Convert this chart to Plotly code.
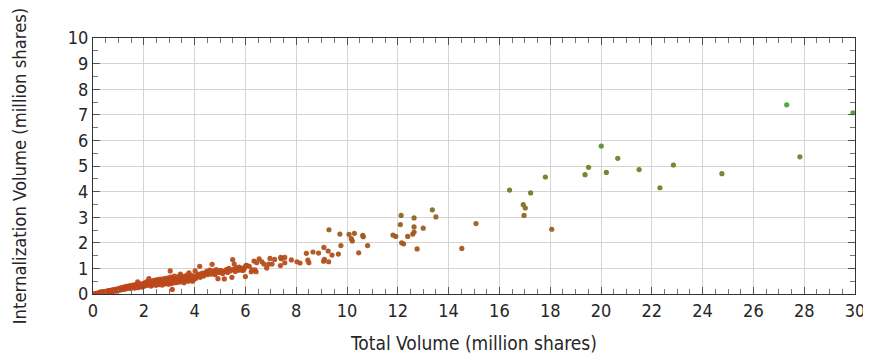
import plotly.graph_objects as go

# Total volume (million shares) and internalization volume (million shares)
total_volume = [
    0.05, 0.10, 0.12, 0.15, 0.18, 0.20, 0.22, 0.25, 0.28, 0.30, 0.32, 0.35, 0.38, 0.40, 0.42, 0.45, 0.48, 0.50,
    0.52, 0.55, 0.58, 0.60, 0.62, 0.65, 0.68, 0.70, 0.72, 0.75, 0.78, 0.80, 0.82, 0.85, 0.88, 0.90, 0.92, 0.95,
    0.98, 1.00, 0.60, 0.75, 0.90, 0.30, 0.45,
    1.02, 1.05, 1.08, 1.10, 1.12, 1.15, 1.18, 1.20, 1.22, 1.25, 1.28, 1.30, 1.32, 1.35, 1.38, 1.40, 1.42, 1.45,
    1.48, 1.50, 1.52, 1.55, 1.58, 1.60, 1.62, 1.65, 1.68, 1.70, 1.72, 1.75, 1.78, 1.80, 1.82, 1.85, 1.88, 1.90,
    1.92, 1.95, 1.98, 2.00, 1.76,
    2.02, 2.05, 2.08, 2.10, 2.12, 2.15, 2.18, 2.20, 2.22, 2.25, 2.28, 2.30, 2.32, 2.35, 2.38, 2.40, 2.42, 2.45,
    2.48, 2.50, 2.52, 2.55, 2.58, 2.60, 2.62, 2.65, 2.68, 2.70, 2.72, 2.75, 2.78, 2.80, 2.82, 2.85, 2.88, 2.90,
    2.92, 2.95, 2.98, 3.00,
    3.02, 3.05, 3.08, 3.10, 3.12, 3.15, 3.18, 3.20, 3.22, 3.25, 3.28, 3.30, 3.32, 3.35, 3.38, 3.40, 3.42, 3.45,
    3.48, 3.50, 3.52, 3.55, 3.58, 3.60, 3.62, 3.65, 3.68, 3.70, 3.72, 3.75, 3.78, 3.80, 3.82, 3.85, 3.88, 3.90,
    3.92, 3.95, 3.98, 3.04, 3.44,
    4.02, 4.05, 4.08, 4.10, 4.15, 4.20, 4.22, 4.25, 4.30, 4.35, 4.37, 4.40, 4.45, 4.50, 4.52, 4.55, 4.60, 4.65,
    4.69, 4.70, 4.75, 4.80, 4.82, 4.85, 4.90, 4.92, 4.95, 5.00, 5.07, 5.10, 5.17,
    5.20, 5.25, 5.30, 5.35, 5.40, 5.47, 5.50, 5.52, 5.56, 5.60, 5.65, 5.70, 5.75, 5.79, 5.85, 5.90, 5.94, 5.97,
    6.00, 6.02, 6.05,
    6.15, 6.23, 6.26, 6.34, 6.38, 6.42, 6.44, 6.54, 6.65, 6.73, 6.84, 6.92, 6.97, 7.05, 7.15, 7.38, 7.39, 7.41,
    7.55, 7.55, 7.81, 8.03, 8.15, 8.40, 8.46, 8.50, 8.66, 8.88, 9.08, 9.09, 9.11, 9.26, 9.28, 9.29, 9.41, 9.66,
    9.72, 9.76, 10.08, 10.17, 10.21, 10.29, 10.46, 10.62, 10.64, 10.81, 11.81, 11.92, 12.10, 12.13, 12.15, 12.23,
    12.39, 12.59, 12.64, 12.64, 12.64, 12.76, 13.00, 13.36, 13.50, 14.52, 15.08,
    16.40, 16.94, 16.97, 17.02, 17.23, 17.81, 18.06, 19.37, 19.51, 20.01, 20.21, 20.66, 21.50, 22.32, 22.85,
    24.76, 27.31, 27.83, 29.92,
]

internalization_volume = [
    0.01, 0.02, 0.01, 0.03, 0.02, 0.04, 0.03, 0.05, 0.04, 0.06, 0.05, 0.07, 0.06, 0.08, 0.05, 0.09, 0.07, 0.10,
    0.08, 0.11, 0.09, 0.12, 0.10, 0.13, 0.11, 0.14, 0.12, 0.15, 0.13, 0.16, 0.12, 0.17, 0.15, 0.18, 0.14, 0.19,
    0.16, 0.20, 0.06, 0.09, 0.11, 0.08, 0.04,
    0.15, 0.22, 0.18, 0.24, 0.17, 0.21, 0.26, 0.19, 0.23, 0.28, 0.20, 0.25, 0.30, 0.22, 0.27, 0.24, 0.32, 0.26,
    0.21, 0.29, 0.34, 0.25, 0.30, 0.27, 0.36, 0.23, 0.32, 0.28, 0.38, 0.30, 0.25, 0.34, 0.29, 0.40, 0.31, 0.36,
    0.27, 0.33, 0.42, 0.30, 0.47,
    0.37, 0.44, 0.33, 0.40, 0.48, 0.35, 0.42, 0.60, 0.38, 0.46, 0.31, 0.50, 0.41, 0.36, 0.45, 0.53, 0.39, 0.48,
    0.34, 0.43, 0.56, 0.40, 0.50, 0.37, 0.46, 0.58, 0.42, 0.52, 0.35, 0.48, 0.44, 0.60, 0.39, 0.54, 0.47, 0.42,
    0.62, 0.50, 0.38, 0.56,
    0.45, 0.66, 0.51, 0.41, 0.18, 0.58, 0.48, 0.70, 0.53, 0.44, 0.62, 0.50, 0.57, 0.68, 0.46, 0.60, 0.54, 0.73,
    0.49, 0.63, 0.57, 0.66, 0.44, 0.60, 0.70, 0.52, 0.64, 0.58, 0.75, 0.50, 0.83, 0.62, 0.56, 0.68, 0.60, 0.72,
    0.50, 0.66, 0.58, 0.90, 0.78,
    0.90, 0.62, 0.72, 0.68, 0.78, 1.08, 0.65, 0.75, 0.82, 0.70, 0.73, 0.80, 0.86, 0.89, 0.76, 0.82, 0.93, 0.78,
    1.16, 0.84, 0.90, 0.76, 0.81, 0.95, 0.86, 0.60, 0.84, 0.92, 0.90, 0.80, 0.59,
    0.88, 0.95, 0.84, 1.00, 0.90, 0.65, 1.34, 0.96, 1.17, 0.88, 1.02, 0.93, 1.05, 0.94, 1.00, 0.92, 0.96, 1.04,
    0.68, 1.11, 1.12,
    1.08, 0.87, 0.94, 1.29, 0.94, 0.87, 1.22, 1.37, 1.26, 1.17, 1.02, 1.17, 1.39, 1.17, 1.35, 1.11, 1.43, 1.38,
    1.43, 1.22, 1.33, 1.26, 1.21, 1.59, 1.32, 1.22, 1.64, 1.60, 1.28, 1.82, 1.35, 1.68, 1.26, 2.51, 1.52, 1.56,
    2.34, 1.89, 2.33, 2.16, 2.07, 2.37, 1.61, 2.29, 2.24, 1.89, 2.30, 2.25, 2.71, 3.07, 2.00, 1.96,
    2.25, 2.34, 2.42, 2.62, 2.97, 1.76, 2.57, 3.29, 3.01, 1.78, 2.75,
    4.06, 3.49, 3.07, 3.36, 3.95, 4.57, 2.53, 4.66, 4.95, 5.78, 4.75, 5.30, 4.86, 4.15, 5.04,
    4.70, 7.39, 5.36, 7.08,
]

x_title = "Total Volume (million shares)"
y_title = "Internalization Volume (million shares)"

font_family = "DejaVu Sans Condensed, Liberation Sans Narrow, DejaVu Sans, sans-serif"
text_color = "#262626"

fig = go.Figure()
fig.add_trace(go.Scatter(
    x=total_volume,
    y=internalization_volume,
    mode="markers",
    marker=dict(
        size=5.2,
        color=internalization_volume,
        cmin=0,
        cmax=7.4,
        colorscale=[
            [0.0, "#c0451a"],
            [0.15, "#b84d1c"],
            [0.3, "#a0591f"],
            [0.42, "#8c6a22"],
            [0.55, "#7a7a22"],
            [0.7, "#6a8628"],
            [0.85, "#589630"],
            [1.0, "#48a63a"],
        ],
        line=dict(width=0),
        opacity=0.95,
    ),
    showlegend=False,
    hoverinfo="x+y",
))

axis_common = dict(
    showline=True,
    linecolor="#333333",
    linewidth=1.2,
    mirror="allticks",
    ticks="inside",
    ticklen=7,
    tickcolor="#555555",
    tickwidth=1,
    showgrid=True,
    gridcolor="#d4d4d4",
    gridwidth=1.2,
    zeroline=False,
    automargin=False,
    tickfont=dict(family=font_family, size=18, color=text_color),
)

fig.update_xaxes(
    range=[0, 30],
    tick0=0,
    dtick=2,
    minor=dict(dtick=0.5, ticks="inside", ticklen=5, tickcolor="#777777", showgrid=False),
    title=dict(text=x_title, font=dict(family=font_family, size=19, color=text_color), standoff=16),
    **axis_common,
)
fig.update_yaxes(
    range=[0, 10],
    tick0=0,
    dtick=1,
    minor=dict(dtick=0.5, ticks="inside", ticklen=5, tickcolor="#777777", showgrid=False),
    title=dict(text=y_title, font=dict(family=font_family, size=18.3, color=text_color), standoff=36),
    **axis_common,
)

fig.update_layout(
    width=863,
    height=346,
    margin=dict(l=85, r=16, t=30, b=60),
    paper_bgcolor="white",
    plot_bgcolor="white",
)

fig.write_html("out.html")
